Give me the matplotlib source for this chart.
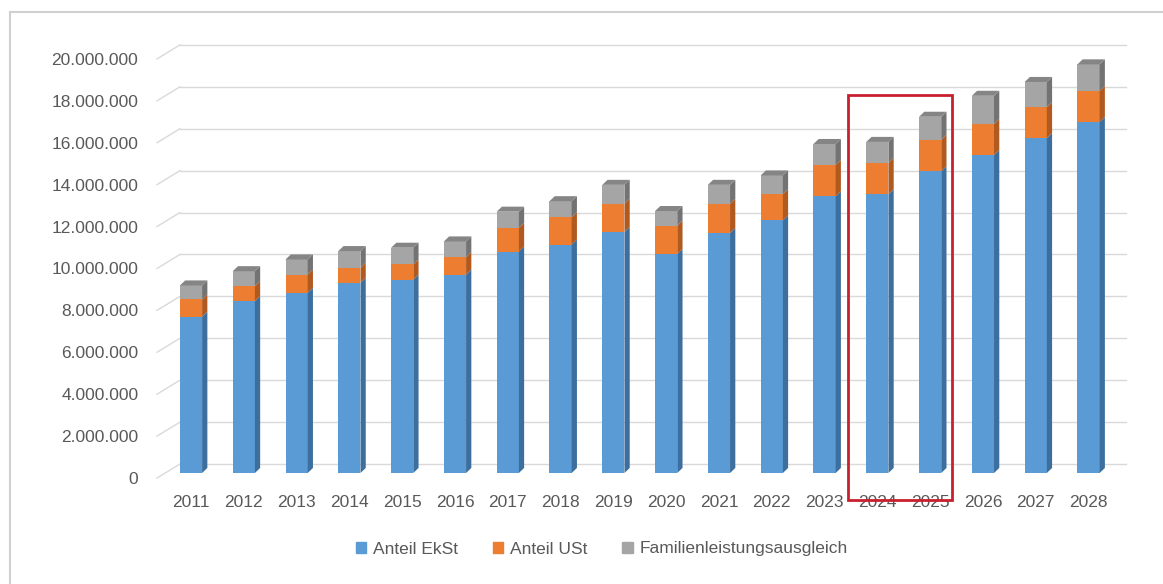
import numpy as np
import matplotlib.pyplot as plt
import matplotlib.transforms as mtransforms
from matplotlib.patches import Polygon, Rectangle, Patch
from matplotlib.lines import Line2D
from matplotlib.ticker import FuncFormatter

plt.rcParams['font.family'] = ['Liberation Sans', 'DejaVu Sans']

years = ['2011', '2012', '2013', '2014', '2015', '2016', '2017', '2018', '2019',
         '2020', '2021', '2022', '2023', '2024', '2025', '2026', '2027', '2028']
ekst = [7460000, 8200000, 8600000, 9080000, 9230000, 9470000, 10570000, 10900000, 11500000,
        10450000, 11450000, 12050000, 13200000, 13300000, 14400000, 15170000, 15980000, 16750000]
ust = [820000, 710000, 870000, 710000, 720000, 830000, 1130000, 1300000, 1350000,
       1350000, 1400000, 1250000, 1500000, 1500000, 1500000, 1480000, 1480000, 1480000]
flag = [670000, 720000, 720000, 800000, 800000, 750000, 770000, 770000, 900000,
        700000, 900000, 900000, 1000000, 1000000, 1100000, 1350000, 1200000, 1270000]
series_names = ['Anteil EkSt', 'Anteil USt', 'Familienleistungsausgleich']
highlight = ['2024', '2025']

front_cols = ['#5B9BD5', '#ED7D31', '#A5A5A5']
side_cols = ['#3D6F9E', '#B15A20', '#737373']
top_col = '#858585'
grid_col = '#D9D9D9'
text_col = '#595959'

fig = plt.figure(figsize=(11.63, 5.84), dpi=100)
ax = fig.add_axes([157 / 1163, 111 / 584, 969 / 1163, 430 / 584])

x = np.arange(len(years))
w = 0.42          # front face width
dx, dy = 0.10, 240000          # bar depth
gdx, gdy = 0.435, 430000       # back wall offset
xl, xr = -0.644, 17.71
ymax = 20520000

# back wall gridlines with short diagonal at left
ticks = np.arange(0, 20000001, 2000000)
for t in ticks:
    ax.plot([xl, xl + gdx], [t - 240000, t + gdy], color=grid_col, lw=1, zorder=0, clip_on=False)
    ax.plot([xl + gdx, xr], [t + gdy, t + gdy], color=grid_col, lw=1, zorder=0, clip_on=False)

bottom = np.zeros(len(years))
for k, vals in enumerate([ekst, ust, flag]):
    vals = np.array(vals, dtype=float)
    ax.bar(x, vals, w, bottom=bottom, color=front_cols[k], zorder=3, label=series_names[k])
    for i in range(len(years)):
        b, t = bottom[i], bottom[i] + vals[i]
        r = x[i] + w / 2
        ax.add_patch(Polygon([(r, b), (r + dx, b + dy), (r + dx, t + dy), (r, t)],
                             closed=True, color=side_cols[k], lw=0, zorder=3))
    bottom = bottom + vals

for i in range(len(years)):
    l, r, t = x[i] - w / 2, x[i] + w / 2, bottom[i]
    ax.add_patch(Polygon([(l, t), (r, t), (r + dx, t + dy), (l + dx, t + dy)],
                         closed=True, color=top_col, lw=0, zorder=3))

# red highlight box
i0, i1 = years.index(highlight[0]), years.index(highlight[-1])
ax.add_patch(Rectangle((i0 - 0.56, -1290000), (i1 - i0) + 0.56 + 0.41, 18040000 + 1290000,
                       fill=False, edgecolor='#C8202E', lw=2, zorder=5, clip_on=False))

ax.set_xlim(xl, xr)
ax.set_ylim(0, ymax)
ax.set_yticks(ticks)
ax.yaxis.set_major_formatter(FuncFormatter(lambda v, p: f"{int(v):,}".replace(",", ".")))
ax.set_xticks(x)
ax.set_xticklabels(years)
ax.tick_params(axis='y', length=0, pad=13.5, labelsize=12.5, labelcolor=text_col)
ax.tick_params(axis='x', length=0, pad=16, labelsize=12.5, labelcolor=text_col)
off = mtransforms.ScaledTranslation(0, -0.05, fig.dpi_scale_trans)
for lab in ax.get_yticklabels():
    lab.set_transform(lab.get_transform() + off)
for s in ax.spines.values():
    s.set_visible(False)

handles = [Patch(color=c) for c in front_cols]
fig.legend(handles, series_names, loc='center', bbox_to_anchor=(602 / 1163, 1 - 549 / 584),
           ncol=3, frameon=False, handlelength=0.6, handleheight=0.6, handletextpad=0.4,
           columnspacing=2.0, fontsize=12.5, labelcolor=text_col)

# chart area border (top and left)
fig.add_artist(Line2D([10 / 1163, 1], [1 - 12 / 584, 1 - 12 / 584], color='#D0D0D0', lw=1.5))
fig.add_artist(Line2D([10 / 1163, 10 / 1163], [0, 1 - 12 / 584], color='#D0D0D0', lw=1.5))

fig.savefig('out.png', dpi=100)
